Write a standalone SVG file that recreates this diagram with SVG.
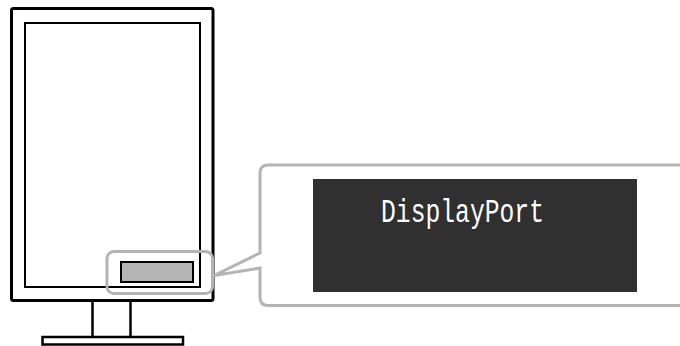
<svg xmlns="http://www.w3.org/2000/svg" width="680" height="346" viewBox="0 0 680 346">
<style>
.blk{fill:none;stroke:#000}
.hl{fill:none;stroke:#b4b4b4;stroke-width:3}
</style>
<rect width="680" height="346" fill="#fff"/>
<g id="monitor">
<rect class="blk" x="11.5" y="8.5" width="201.5" height="292" rx="2" stroke-width="3"/>
<rect class="blk" x="25" y="23" width="175" height="264" stroke-width="2"/>
<path class="blk" d="M92.5 301 V337 M130.5 301 V337" stroke-width="2.5"/>
<rect class="blk" x="42.5" y="337" width="140.5" height="7.5" stroke-width="2.5"/>
<rect x="121" y="262" width="72" height="20" fill="#b4b4b4" stroke="#000" stroke-width="2"/>
</g>
<g id="highlight">
<rect class="hl" x="107" y="251.5" width="105.5" height="42" rx="7"/>
</g>
<g id="connectors">
<path class="hl" d="M692 165 H268 Q260 165 260 173 V253 L214 275.5 L260 268 V297 Q260 305.5 268 305.5 H692" style="fill:#fff"/>
</g>
<g id="screen">
<rect x="313" y="179" width="324" height="113" fill="#303030"/>
<text x="381" y="222" font-family="Liberation Mono, monospace" font-size="33" fill="#fff" textLength="163" lengthAdjust="spacingAndGlyphs">DisplayPort</text>
</g>
</svg>
